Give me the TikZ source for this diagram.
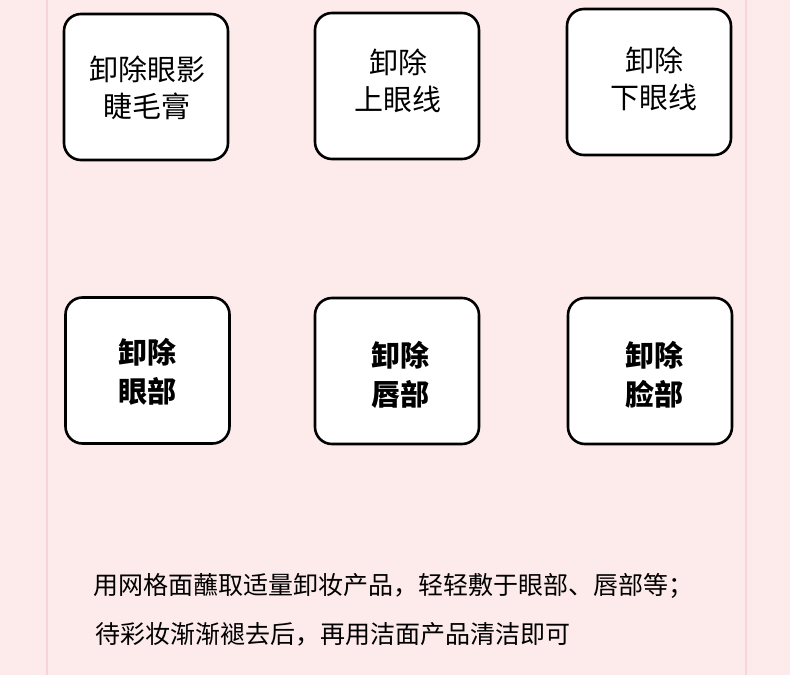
\documentclass[tikz,border=0pt]{standalone}
\usepackage{fontspec}
\setmainfont{Noto Sans CJK SC}
\usetikzlibrary{positioning}
\definecolor{pagepink}{RGB}{253,235,236}
\definecolor{edgepink}{RGB}{248,212,216}
\tikzset{
  stepbox/.style={draw=black, line width=2.6pt, fill=white, rounded corners=17pt,
    minimum width=164pt, minimum height=146pt, inner sep=0pt},
  boxtext/.style={align=center, font=\fontsize{29}{37}\selectfont, inner sep=0pt},
  boldtext/.style={boxtext, font=\fontsize{29}{39}\selectfont\bfseries},
  notetext/.style={anchor=west, font=\fontsize{25}{28}\selectfont, inner sep=0pt}
}
\begin{document}
\begin{tikzpicture}[x=1pt, y=-1pt]
  \fill[pagepink] (0,0) rectangle (790,675);
  \useasboundingbox (0,0) rectangle (790,675);
  \draw[edgepink, line width=1.6pt] (47,0) -- (47,675);
  \draw[edgepink, line width=1.6pt] (746,0) -- (746,675);
  % top row
  \node[stepbox] (eyeshadow) at (146,87) {};
  \node[stepbox] (upperline) at (397,86) {};
  \node[stepbox] (lowerline) at (649,82) {};
  \node[boxtext] (eyeshadowtext) at (147,88) {卸除眼影\\睫毛膏};
  \node[boxtext] (upperlinetext) at (398,81) {卸除\\上眼线};
  \node[boxtext] (lowerlinetext) at (654,79) {卸除\\下眼线};
  % bottom row
  \node[stepbox] (eyes) at (147.5,370.5) {};
  \node[stepbox] (lips) at (397,371) {};
  \node[stepbox] (face) at (650,371) {};
  \node[boldtext] (eyestext) at (147,372) {卸除\\眼部};
  \node[boldtext] (lipstext) at (400,375) {卸除\\唇部};
  \node[boldtext] (facetext) at (654,375) {卸除\\脸部};
  % notes
  \node[notetext] (noteone) at (93,586) {用网格面蘸取适量卸妆产品，轻轻敷于眼部、唇部等；};
  \node[notetext] (notetwo) at (95,634) {待彩妆渐渐褪去后，再用洁面产品清洁即可};
\end{tikzpicture}
\end{document}
